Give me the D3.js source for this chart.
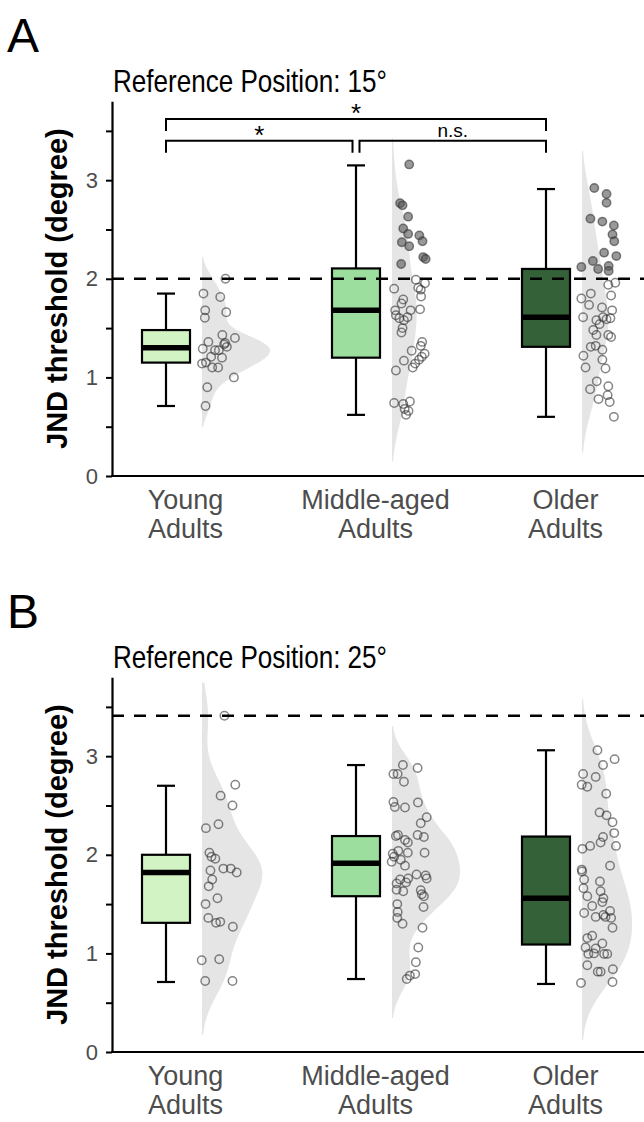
<!DOCTYPE html>
<html>
<head>
<meta charset="utf-8">
<script src="https://cdn.jsdelivr.net/npm/d3@7"></script>
<style>
  body { margin: 0; background: #fff; }
  svg { display: block; font-family: "Liberation Sans", Arial, sans-serif; }
</style>
</head>
<body>
<div id="chart"></div>
<script>
// groups and labels
const groups = ["Young Adults", "Middle-aged Adults", "Older Adults"];
const groupLines = [["Young", "Adults"], ["Middle-aged", "Adults"], ["Older", "Adults"]];
const boxColors = ["#d2f4c4", "#9bde9e", "#356139"];
const yTicks = [0, 0.5, 1, 1.5, 2, 2.5, 3, 3.5];

// ---- panel A : reference position 15 deg ----
const young15 = [2.00, 1.85, 1.815, 1.68, 1.605, 1.66, 1.43, 1.40, 1.36, 1.35, 1.31, 1.29, 1.275, 1.275, 1.21, 1.20, 1.14, 1.15, 1.10, 1.10, 1.00, 0.90, 0.71, 1.335];
const young15Jit = [0.70, 0.07, 0.55, 0.12, 0.11, 0.72, 0.61, 0.97, 0.21, 0.69, 0.74, 0.05, 0.40, 0.51, 0.29, 0.60, 0.03, 0.14, 0.32, 0.49, 0.94, 0.18, 0.13, 0.66];
const middle15 = [3.16, 2.766, 2.745, 2.63, 2.51, 2.455, 2.44, 2.37, 2.33, 2.38, 2.22, 2.20, 2.15, 1.99, 1.955, 1.90, 1.91, 1.89, 1.82, 1.79, 1.75, 1.68, 1.68, 1.69, 1.63, 1.60, 1.58, 1.61, 1.50, 1.455, 1.36, 1.32, 1.27, 1.24, 1.21, 1.18, 1.17, 1.14, 1.10, 1.07, 0.74, 0.73, 0.755, 0.68, 0.66, 0.62];
const middle15Jit = [0.52, 0.26, 0.33, 0.49, 0.35, 0.49, 0.81, 0.31, 0.52, 0.90, 0.92, 0.99, 0.29, 0.71, 0.97, 0.09, 0.78, 0.85, 0.86, 0.35, 0.30, 0.12, 0.56, 0.83, 0.14, 0.24, 0.37, 0.47, 0.33, 0.30, 0.89, 0.85, 0.59, 0.96, 0.88, 0.80, 0.37, 0.69, 0.62, 0.14, 0.09, 0.35, 0.54, 0.39, 0.50, 0.43];
const older15 = [2.92, 2.86, 2.77, 2.61, 2.58, 2.54, 2.45, 2.38, 2.265, 2.23, 2.18, 2.12, 2.10, 2.13, 2.08, 1.96, 1.85, 1.94, 1.80, 1.83, 1.735, 1.71, 1.68, 1.61, 1.58, 1.61, 1.59, 1.60, 1.54, 1.48, 1.43, 1.41, 1.43, 1.31, 1.32, 1.28, 1.22, 1.18, 1.10, 1.09, 0.96, 0.88, 0.91, 0.82, 0.78, 0.75, 0.60];
const older15Jit = [0.38, 0.73, 0.73, 0.27, 0.61, 0.94, 0.90, 0.95, 0.66, 1.01, 0.34, 0.01, 0.49, 0.79, 0.79, 0.98, 0.28, 0.78, 0.01, 0.86, 0.23, 0.60, 0.89, 0.06, 0.44, 0.63, 0.73, 0.84, 0.53, 0.35, 0.78, 0.86, 0.44, 0.28, 0.42, 0.61, 0.07, 0.61, 0.13, 0.70, 0.45, 0.26, 0.78, 0.76, 0.50, 0.82, 0.94];
const q1_15 = [1.15, 1.20, 1.31];
const med15 = [1.30, 1.68, 1.61];
const q3_15 = [1.48, 2.105, 2.10];
const lo15 = [0.71, 0.62, 0.60];
const hi15 = [1.85, 3.15, 2.91];
const chance15 = 2.0;
// significance brackets (group index from / to, label, y position)
const sigFrom = [0, 1, 0];
const sigTo = [1, 2, 2];
const sigLabel = ["*", "n.s.", "*"];
const sigY = [3.40, 3.40, 3.62];

// ---- panel B : reference position 25 deg ----
const young25 = [3.41, 2.71, 2.60, 2.50, 2.27, 2.31, 2.02, 1.98, 1.96, 1.84, 1.86, 1.86, 1.82, 1.75, 1.68, 1.56, 1.50, 1.36, 1.31, 1.32, 1.27, 0.93, 0.94, 0.72, 0.72];
const young25Jit = [0.67, 0.98, 0.56, 0.90, 0.14, 0.50, 0.24, 0.30, 0.41, 0.27, 0.64, 0.85, 1.02, 0.32, 0.22, 0.47, 0.13, 0.21, 0.43, 0.55, 0.91, 0.02, 0.52, 0.12, 0.90];
const middle25 = [2.91, 2.88, 2.82, 2.82, 2.74, 2.535, 2.485, 2.48, 2.53, 2.38, 2.32, 2.20, 2.18, 2.19, 2.20, 2.15, 2.125, 2.04, 2.02, 2.02, 2.01, 1.98, 1.95, 1.93, 1.89, 1.80, 1.79, 1.76, 1.76, 1.75, 1.72, 1.71, 1.645, 1.63, 1.64, 1.60, 1.58, 1.50, 1.47, 1.42, 1.36, 1.30, 1.26, 1.06, 0.91, 0.79, 0.775, 0.74];
const middle25Jit = [0.34, 0.76, 0.07, 0.19, 0.37, 0.07, 0.11, 0.40, 0.77, 1.02, 0.85, 0.76, 0.94, 0.14, 0.20, 0.40, 0.48, 0.21, 0.48, 0.96, 0.05, 0.09, 0.28, 0.02, 0.40, 0.73, 0.99, 1.02, 0.49, 0.26, 0.43, 0.16, 0.16, 0.35, 0.85, 0.88, 0.94, 0.18, 0.93, 0.19, 0.18, 0.33, 0.90, 0.78, 0.71, 0.69, 0.54, 0.45];
const older25 = [3.06, 2.97, 2.91, 2.82, 2.79, 2.71, 2.69, 2.62, 2.43, 2.40, 2.33, 2.22, 2.09, 2.18, 2.125, 2.09, 2.06, 1.89, 1.85, 1.83, 1.75, 1.73, 1.66, 1.63, 1.58, 1.56, 1.52, 1.48, 1.43, 1.41, 1.39, 1.37, 1.37, 1.36, 1.26, 1.18, 1.155, 1.10, 1.06, 1.05, 0.995, 1.00, 0.995, 0.995, 0.88, 0.815, 0.815, 0.84, 0.71, 0.70];
const older25Jit = [0.47, 0.96, 0.63, 0.06, 0.42, 0.02, 0.18, 0.72, 0.53, 0.73, 0.90, 0.95, 1.00, 0.63, 0.56, 0.26, 0.04, 0.83, 0.02, 0.03, 0.09, 0.54, 0.07, 0.56, 0.18, 0.64, 0.61, 0.32, 0.83, 0.09, 0.64, 0.42, 0.70, 0.86, 0.90, 0.32, 0.18, 0.61, 0.13, 0.42, 0.21, 0.37, 0.66, 0.75, 0.18, 0.48, 0.56, 0.91, 0.90, 0.00];
const q1_25 = [1.31, 1.58, 1.09];
const med25 = [1.82, 1.915, 1.56];
const q3_25 = [2.00, 2.19, 2.185];
const lo25 = [0.71, 0.74, 0.69];
const hi25 = [2.70, 2.91, 3.06];
const chance25 = 3.41;

const panels = [
  { tag: "A", title: "Reference Position: 15\u00b0", values: [young15, middle15, older15], jit: [young15Jit, middle15Jit, older15Jit],
    q1: q1_15, med: med15, q3: q3_15, lo: lo15, hi: hi15, chance: chance15, sig: true },
  { tag: "B", title: "Reference Position: 25\u00b0", values: [young25, middle25, older25], jit: [young25Jit, middle25Jit, older25Jit],
    q1: q1_25, med: med25, q3: q3_25, lo: lo25, hi: hi25, chance: chance25, sig: false }
];

const W = 644, H = 1122;
const svg = d3.select("#chart").append("svg").attr("width", W).attr("height", H);

// R's bw.nrd0
const nrd0 = (v) => {
  const s = d3.deviation(v);
  const iqr = d3.quantile(v, 0.75) - d3.quantile(v, 0.25);
  return 0.9 * Math.min(s, iqr / 1.34) * Math.pow(v.length, -0.2);
};
// gaussian kde, range extended by 3 bandwidths like ggplot (trim = FALSE)
const kde = (v) => {
  const bw = nrd0(v);
  const a = d3.min(v) - 3 * bw, b = d3.max(v) + 3 * bw;
  return d3.range(0, 257).map((i) => {
    const t = a + (b - a) * i / 256;
    const d = d3.mean(v, (x) => Math.exp(-0.5 * ((t - x) / bw) ** 2)) / (bw * Math.sqrt(2 * Math.PI));
    return [t, d];
  });
};

const drawPanel = (p, dy) => {
  const g = svg.append("g").attr("transform", `translate(0,${dy})`);
  const axisX = 112, axisY = 476;

  const y = d3.scaleLinear().domain([0, 3.8]).range([axisY, 101.3]);
  const x = d3.scalePoint().domain(groups).range([185, 565]);
  const boxX = (i) => x(groups[i]) - 19;
  const violinX = (i) => x(groups[i]) + 17;

  g.append("text").attr("x", 7).attr("y", 52).attr("font-size", 48).text(p.tag);
  g.append("text").attr("x", 113).attr("y", 92).attr("font-size", 32)
    .attr("textLength", 274).attr("lengthAdjust", "spacingAndGlyphs")
    .text(p.title);

  // half violins, area scaled like ggplot (scale = "area")
  const dens = p.values.map(kde);
  const maxD = d3.max(dens, (d) => d3.max(d, (e) => e[1]));
  const w = d3.scaleLinear().domain([0, maxD]).range([0, 68]);
  dens.forEach((d, i) => {
    // drop the sub-pixel tails that do not show up in print
    const vis = d.filter((e) => w(e[1]) > 1 && e[0] < 3.75);
    g.append("path")
      .datum(vis)
      .attr("fill", "#e5e5e5")
      .attr("d", d3.area().x0(violinX(i)).x1((e) => violinX(i) + w(e[1])).y((e) => y(e[0])));
  });

  // boxplots
  groups.forEach((name, i) => {
    const cx = boxX(i);
    const bg = g.append("g").attr("stroke", "#000").attr("stroke-width", 2.2);
    bg.append("line").attr("x1", cx).attr("x2", cx).attr("y1", y(p.hi[i])).attr("y2", y(p.q3[i]));
    bg.append("line").attr("x1", cx).attr("x2", cx).attr("y1", y(p.q1[i])).attr("y2", y(p.lo[i]));
    bg.append("line").attr("x1", cx - 9).attr("x2", cx + 9).attr("y1", y(p.hi[i])).attr("y2", y(p.hi[i]));
    bg.append("line").attr("x1", cx - 9).attr("x2", cx + 9).attr("y1", y(p.lo[i])).attr("y2", y(p.lo[i]));
    bg.append("rect").attr("x", cx - 24).attr("width", 48)
      .attr("y", y(p.q3[i])).attr("height", y(p.q1[i]) - y(p.q3[i]))
      .attr("fill", boxColors[i]);
    bg.append("line").attr("x1", cx - 24).attr("x2", cx + 24).attr("y1", y(p.med[i])).attr("y2", y(p.med[i]))
      .attr("stroke-width", 5.5);
  });

  // jittered points, filled when above the dashed line
  groups.forEach((name, i) => {
    g.append("g").selectAll("circle")
      .data(p.values[i].map((v, k) => ({ v, j: p.jit[i][k] })))
      .join("circle")
      .attr("cx", (d) => violinX(i) - 1 + d.j * 35)
      .attr("cy", (d) => y(d.v))
      .attr("r", 4.2)
      .attr("fill", (d) => (d.v > p.chance ? "#555" : "none"))
      .attr("fill-opacity", 0.6)
      .attr("stroke", "#333")
      .attr("stroke-opacity", 0.6)
      .attr("stroke-width", 1.5);
  });

  g.append("line")
    .attr("x1", axisX).attr("x2", W)
    .attr("y1", y(p.chance)).attr("y2", y(p.chance))
    .attr("stroke", "#000").attr("stroke-width", 2.4).attr("stroke-dasharray", "12,10");

  if (p.sig) {
    sigFrom.forEach((f, k) => {
      const x1 = boxX(f) + (f === 1 ? 3.5 : 0);
      const x2 = boxX(sigTo[k]) - (sigTo[k] === 1 ? 3.5 : 0);
      const yy = y(sigY[k]);
      g.append("path")
        .attr("d", `M${x1},${yy + 12}V${yy}H${x2}V${yy + 12}`)
        .attr("fill", "none").attr("stroke", "#000").attr("stroke-width", 2);
      const star = sigLabel[k] === "*";
      g.append("text")
        .attr("x", (x1 + x2) / 2)
        .attr("y", star ? yy + 3 : yy - 4)
        .attr("text-anchor", "middle")
        .attr("font-size", star ? 26 : 19)
        .text(sigLabel[k]);
    });
  }

  // y axis
  const ya = g.append("g").attr("transform", `translate(${axisX},0)`)
    .call(d3.axisLeft(y).tickValues(yTicks).tickSize(6).tickSizeOuter(0).tickPadding(8)
      .tickFormat((d) => (Number.isInteger(d) ? d : "")));
  ya.select(".domain").attr("stroke-width", 2.2);
  ya.selectAll(".tick line").attr("stroke-width", 2);
  ya.selectAll(".tick text").attr("font-size", 22).attr("fill", "#4d4d4d").attr("font-family", null);

  g.append("text")
    .attr("transform", `translate(67,${(axisY + 101.3) / 2}) rotate(-90)`)
    .attr("text-anchor", "middle")
    .attr("font-size", 29).attr("font-weight", "bold")
    .text("JND threshold (degree)");

  // x axis
  g.append("line").attr("x1", axisX - 1).attr("x2", W).attr("y1", axisY).attr("y2", axisY)
    .attr("stroke", "#000").attr("stroke-width", 2.2);
  const xa = g.append("g").attr("transform", `translate(0,${axisY})`)
    .call(d3.axisBottom(x).tickSize(0).tickPadding(0));
  xa.select(".domain").remove();
  xa.selectAll(".tick text")
    .text(null).attr("dy", null).attr("y", null)
    .attr("font-size", 27).attr("fill", "#4d4d4d").attr("font-family", null)
    .each(function (d, i) {
      d3.select(this).selectAll("tspan").data(groupLines[i]).join("tspan")
        .attr("x", 0).attr("y", (s, j) => 33 + j * 29).text((s) => s);
    });
};

drawPanel(panels[0], 0);
drawPanel(panels[1], 576);
</script>
</body>
</html>
